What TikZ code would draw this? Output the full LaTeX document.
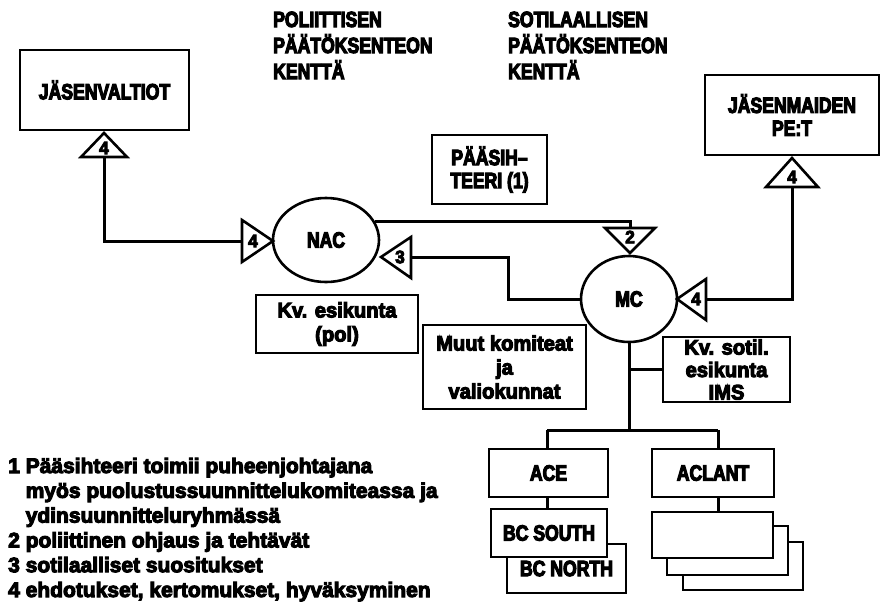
\documentclass[tikz,border=0pt]{standalone}
\usepackage{fontspec}
\setmainfont{Liberation Sans}
\newfontfamily\capsfont{Liberation Sans Bold}[FakeBold=5,FakeStretch=0.8]
\newfontfamily\heavyfont{Liberation Sans Bold}[FakeBold=5,FakeStretch=0.96]
\newfontfamily\legfont{Liberation Sans Bold}[FakeBold=5]
\usetikzlibrary{shapes.geometric}
\tikzset{
  conn/.style={line width=3pt},
  box/.style={draw, line width=2.6pt, fill=white, inner sep=0pt, align=center},
  capsf/.style={font=\fontsize{22}{23}\selectfont\capsfont},
  lowf/.style={font=\fontsize{21}{24}\selectfont\heavyfont},
  imsf/.style={font=\fontsize{21}{22.5}\selectfont\heavyfont},
  tri/.style={draw, line width=2.6pt, fill=white, line join=miter},
  trinum/.style={font=\fontsize{18}{18}\selectfont\heavyfont, inner sep=0pt},
  oval/.style={ellipse, draw, line width=2.6pt, inner sep=0pt, fill=white},
  toptxt/.style={anchor=base west, inner sep=0pt, font=\fontsize{22}{23}\selectfont\capsfont},
  legtxt/.style={anchor=base west, inner sep=0pt, font=\fontsize{21}{24}\selectfont\legfont}
}
\begin{document}
\begin{tikzpicture}[x=1pt,y=-1pt]
\useasboundingbox (0,0) rectangle (880,603);

% top headings
\node[toptxt] (pa) at (273,27) {POLIITTISEN};
\node[toptxt] (pb) at (273,53) {PÄÄTÖKSENTEON};
\node[toptxt] (pc) at (273,79) {KENTTÄ};
\node[toptxt] (sa) at (508,27) {SOTILAALLISEN};
\node[toptxt] (sb) at (508,53) {PÄÄTÖKSENTEON};
\node[toptxt] (sc) at (508,79) {KENTTÄ};

% main nodes
\node[box, capsf, minimum width=169pt, minimum height=80pt] (jv) at (104.5,90) {JÄSENVALTIOT};
\node[box, capsf, minimum width=174pt, minimum height=80pt] (jm) at (792,115) {JÄSENMAIDEN\\PE:T};
\node[box, capsf, minimum width=115pt, minimum height=69pt] (ps) at (489.5,169.5) {PÄÄSIH–\\TEERI (1)};
\node[oval, capsf, minimum width=106pt, minimum height=84pt] (nac) at (326,240) {NAC};
\node[oval, capsf, minimum width=96pt, minimum height=86pt] (mc) at (629,299) {MC};
\node[box, lowf, minimum width=162pt, minimum height=58pt] (ke) at (337,324) {Kv. esikunta\\(pol)};
\node[box, lowf, minimum width=163pt, minimum height=84pt] (mk) at (504.5,367) {Muut komiteat\\ja\\valiokunnat};
\node[box, imsf, minimum width=127pt, minimum height=65pt] (ims) at (726.5,369.5) {Kv. sotil.\\esikunta\\IMS};

% triangle connection points
\coordinate (t4a) at (104,157);
\coordinate (t4b) at (242,241);
\coordinate (t3) at (411,257);
\coordinate (t2) at (630,228);
\coordinate (t4c) at (706,299);
\coordinate (t4d) at (792,187);
\coordinate (hub) at (629,430);
\coordinate (bl) at (547,430);
\coordinate (br) at (718,430);

% connectors
\draw[conn] (t4a) |- (t4b);
\draw[conn] (nac.21) -| (t2);
\draw[conn] (t3) -- ++(97,0) |- (mc.west);
\draw[conn] (t4c) -| (t4d);
\draw[conn] (mc.south) -- (hub);
\draw[conn] (mc.south |- ims.west) -- (ims.west);
\draw[conn] (bl) -- (br);

% lower boxes
\node[box, capsf, minimum width=119pt, minimum height=48pt] (ace) at (548.5,473) {ACE};
\node[box, capsf, minimum width=122pt, minimum height=48pt] (aclant) at (713,473) {ACLANT};
\node[box, capsf, minimum width=119pt, minimum height=49pt] (bcn) at (566.5,568.5) {BC NORTH};
\node[box, capsf, minimum width=116pt, minimum height=48pt] (bcs) at (549,533) {BC SOUTH};
\node[box, minimum width=120pt, minimum height=48pt] (stk3) at (743,566) {};
\node[box, minimum width=121pt, minimum height=49pt] (stk2) at (727.5,550.5) {};
\node[box, minimum width=121pt, minimum height=46pt] (stk1) at (712.5,535) {};

\draw[conn] (bl) -- (bl |- ace.north);
\draw[conn] (br) -- (br |- aclant.north);
\draw[conn] (ace.south -| bl) -- (bcs.north -| bl);
\draw[conn] (aclant.south -| br) -- (stk1.north -| br);

% triangles
\draw[tri] (104,133) -- (127,157) -- (81,157) -- cycle;
\node[trinum] (n4a) at (104,148) {4};
\draw[tri] (273,241) -- (242,220) -- (242,262) -- cycle;
\node[trinum] (n4b) at (253,241) {4};
\draw[tri] (381,257) -- (411,237) -- (411,278) -- cycle;
\node[trinum] (n3) at (400,257) {3};
\draw[tri] (630,253) -- (605,228) -- (655,228) -- cycle;
\node[trinum] (n2) at (630,237) {2};
\draw[tri] (677,299) -- (706,279) -- (706,320) -- cycle;
\node[trinum] (n4c) at (696,299) {4};
\draw[tri] (792,158) -- (818,187) -- (766,187) -- cycle;
\node[trinum] (n4d) at (792,177) {4};

% legend
\node[legtxt] (l1) at (8,473) {1 Pääsihteeri toimii puheenjohtajana};
\node[legtxt] (l2) at (8,497.8) {\phantom{1 }myös puolustussuunnittelukomiteassa ja};
\node[legtxt] (l3) at (8,522.6) {\phantom{1 }ydinsuunnitteluryhmässä};
\node[legtxt] (l4) at (8,547.4) {2 poliittinen ohjaus ja tehtävät};
\node[legtxt] (l5) at (8,572.2) {3 sotilaalliset suositukset};
\node[legtxt] (l6) at (8,597) {4 ehdotukset, kertomukset, hyväksyminen};
\end{tikzpicture}
\end{document}
